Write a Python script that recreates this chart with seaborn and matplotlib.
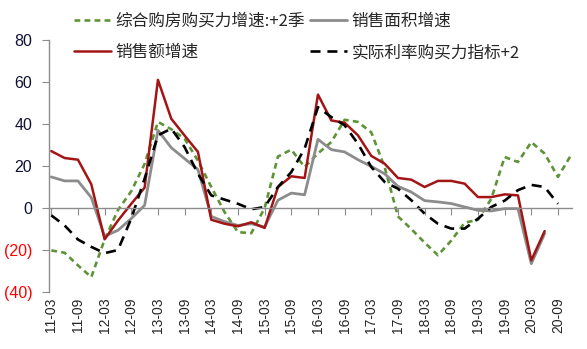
import numpy as np
import pandas as pd
import matplotlib
matplotlib.use("Agg")
import matplotlib.pyplot as plt
import seaborn as sns

# ---- data (quarterly) ----
quarters = [f"{y:02d}-{m:02d}" for y in range(11, 21) for m in (3, 6, 9, 12)]
tick_labels = quarters[::2]

purchasing_power = [-20.2, -21.3, -27.3, -32.9, -15.0, -1.0, 8.0, 21.0, 41.0, 37.5,
                    33.0, 22.5, 10.0, -2.0, -11.5, -12.0, 0.0, 24.5, 27.8, 19.5,
                    26.0, 31.4, 42.0, 41.0, 36.0, 19.5, -4.0, -10.0, -16.5, -22.5,
                    -15.5, -7.0, -5.6, 4.4, 24.3, 21.9, 31.4, 25.9, 14.8, 25.4]
sales_area = [14.8, 12.9, 12.9, 5.0, -13.5, -10.6, -5.0, 1.3, 37.0, 28.7,
              23.5, 18.3, -4.0, -6.5, -8.3, -7.5, -9.0, 3.7, 7.1, 6.3,
              32.7, 27.8, 26.7, 23.0, 19.8, 16.3, 10.3, 7.6, 3.5, 2.9,
              2.1, 0.5, -1.1, -1.4, -0.3, -0.3, -26.5, -12.2, np.nan, np.nan]
sales_amount = [27.1, 23.8, 23.0, 11.3, -14.9, -6.0, 2.0, 9.7, 61.0, 42.5,
                34.5, 26.7, -5.6, -7.5, -8.7, -6.8, -9.5, 10.0, 15.1, 14.3,
                54.0, 41.7, 40.6, 34.6, 24.8, 21.1, 14.3, 13.5, 10.0, 12.9,
                12.9, 11.6, 5.2, 5.2, 6.5, 6.0, -24.9, -11.0, np.nan, np.nan]
real_rate = [-3.5, -8.3, -15.0, -18.5, -21.5, -20.0, -5.0, 14.0, 34.6, 37.8,
             29.0, 16.3, 6.0, 4.0, 2.0, -0.6, 0.5, 10.0, 17.1, 28.3,
             48.0, 43.3, 39.4, 30.6, 19.5, 12.4, 9.2, 3.7, -2.7, -7.5,
             -9.8, -9.8, -5.1, 0.5, 3.5, 8.5, 11.0, 10.0, 2.0, np.nan]

names = ["综合购房购买力增速:+2季", "销售面积增速", "销售额增速", "实际利率购买力指标+2"]
y_ticks = [-40, -20, 0, 20, 40, 60, 80]
y_tick_labels = ["(40)", "(20)", "0", "20", "40", "60", "80"]

GREEN = "#5E9437"
GRAY = "#8C8C8C"
RED = "#A31515"
BLACK = "#000000"
AXIS = "#8C8C8C"

sns.set_style("white")
plt.rcParams["font.family"] = ["Liberation Sans", "Noto Sans CJK SC", "DejaVu Sans"]

fig = plt.figure(figsize=(5.87, 3.49), dpi=100)
ax = fig.add_axes([0.0835, 0.1633, 0.8909, 0.7221])

x = np.arange(len(quarters))
df = pd.DataFrame({"x": x, "g": purchasing_power, "a": sales_area,
                   "s": sales_amount, "r": real_rate})

sns.lineplot(data=df, x="x", y="g", ax=ax, color=GREEN, lw=1.9,
             linestyle=(0, (2.2, 1.6)), label=names[0])
sns.lineplot(data=df, x="x", y="a", ax=ax, color=GRAY, lw=2.0, label=names[1])
sns.lineplot(data=df, x="x", y="s", ax=ax, color=RED, lw=1.8, label=names[2])
sns.lineplot(data=df, x="x", y="r", ax=ax, color=BLACK, lw=1.9,
             linestyle=(0, (3.8, 2.6)), label=names[3])
if ax.get_legend() is not None:
    ax.get_legend().remove()

ax.set_xlim(-0.17, 39.05)
ax.set_ylim(-40, 80)
ax.set_xlabel("")
ax.set_ylabel("")

for s in ("top", "right"):
    ax.spines[s].set_visible(False)
ax.spines["left"].set_color(AXIS)
ax.spines["bottom"].set_color(AXIS)
ax.spines["left"].set_linewidth(1.0)
ax.spines["bottom"].set_linewidth(1.0)
ax.spines["bottom"].set_position(("data", 0))

ax.set_yticks(y_ticks, y_tick_labels)
ax.tick_params(axis="y", direction="out", length=5, color=AXIS, pad=7,
               labelsize=11.5, left=True)
for lab in ax.get_yticklabels():
    lab.set_color("red" if lab.get_text().startswith("(") else "#111133")

ax.set_xticks(x[::2])
ax.tick_params(axis="x", direction="out", length=5, color=AXIS,
               labelbottom=False, bottom=True)

sec = ax.secondary_xaxis("bottom")
sec.set_xticks(x[::2], tick_labels, rotation=90)
sec.spines["bottom"].set_visible(False)
sec.tick_params(axis="x", length=0, pad=4, labelsize=10)

lines = ax.get_lines()
order = [0, 2, 1, 3]
fig.legend([lines[i] for i in order], [names[i] for i in order], ncol=2,
           loc="upper left", bbox_to_anchor=(0.126, 0.963), frameon=False,
           prop={"family": ["Noto Sans CJK SC", "DejaVu Sans"], "size": 12},
           handlelength=2.2, handletextpad=0.3, columnspacing=0.3,
           labelspacing=0.85, borderpad=0, borderaxespad=0)

fig.savefig("out.png", dpi=100)
